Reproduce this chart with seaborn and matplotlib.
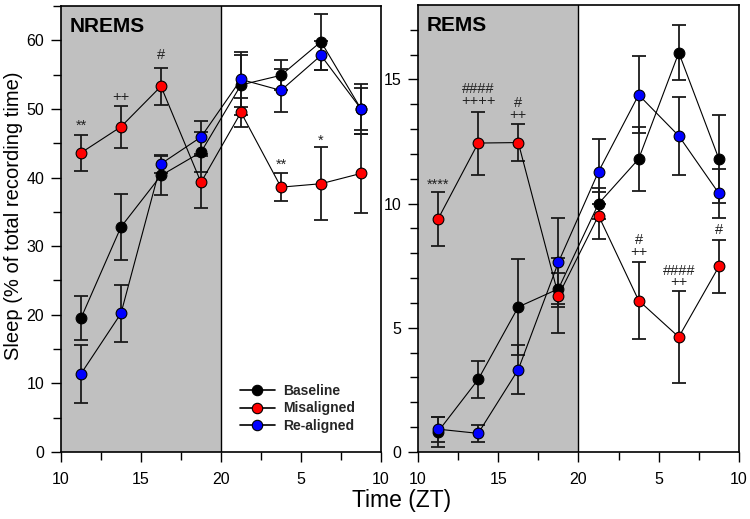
import matplotlib
matplotlib.use("Agg")
import matplotlib.pyplot as plt
from matplotlib.lines import Line2D
import seaborn as sns
import numpy as np

# ---- data ----
zt = [11.25, 13.75, 16.25, 18.75, 21.25, 23.75, 26.25, 28.75]
xtick_pos = [10, 15, 20, 25, 30]
xtick_labels = ["10", "15", "20", "5", "10"]
series_names = ["Baseline", "Misaligned", "Re-aligned"]

nrem_base = [19.5, 32.8, 40.3, 43.7, 53.5, 54.9, 59.8, 50.0]
nrem_base_err = [3.2, 4.8, 2.8, 2.9, 4.4, 2.2, 4.1, 3.6]
nrem_mis = [43.6, 47.4, 53.3, 39.3, 49.5, 38.6, 39.1, 40.6]
nrem_mis_err = [2.6, 3.1, 2.7, 3.8, 2.1, 2.0, 5.3, 5.7]
nrem_re = [11.4, 20.2, 42.0, 45.9, 54.3, 52.7, 57.8, 50.0]
nrem_re_err = [4.2, 4.1, 1.3, 2.4, 4.0, 3.1, 2.1, 3.1]

rem_base = [0.82, 2.92, 5.84, 6.57, 10.0, 11.8, 16.08, 11.8]
rem_base_err = [0.6, 0.75, 1.95, 0.63, 0.62, 1.3, 1.12, 1.77]
rem_mis = [9.38, 12.44, 12.46, 6.3, 9.52, 6.1, 4.63, 7.47]
rem_mis_err = [1.1, 1.27, 0.75, 1.5, 0.95, 1.55, 1.85, 1.07]
rem_re = [0.92, 0.75, 3.32, 7.64, 11.29, 14.38, 12.73, 10.41]
rem_re_err = [0.5, 0.35, 1.0, 1.8, 1.3, 1.55, 1.57, 1.0]

nrem_annot_x = [11.25, 13.75, 16.25, 23.75, 26.25]
nrem_annot_y = [47.6, 51.7, 57.8, 41.9, 45.4]
nrem_annot_t = ["**", "++", "#", "**", "*"]

rem_annot_x = [11.25, 13.75, 16.25, 23.75, 26.25, 28.75]
rem_annot_y = [10.75, 14.37, 13.82, 8.31, 7.07, 8.94]
rem_annot_t = ["****", "####\n++++", "#\n++", "#\n++", "####\n++", "#"]

colors = ["black", "#ff0000", "#0000ff"]

sns.set_theme(style="ticks")
plt.rcParams["font.family"] = ["Liberation Sans", "DejaVu Sans"]

fig = plt.figure(figsize=(7.5, 5.19), dpi=100)
axL = fig.add_axes([0.0813, 0.1291, 0.4267, 0.8593])
axR = fig.add_axes([0.5573, 0.1291, 0.428, 0.8613])


def draw_panel(ax, data, ylim, major, minor, title, annots):
    ax.axvspan(10, 20, color="#c0c0c0", lw=0, zorder=0)
    ax.axvline(20, color="black", lw=1.0, zorder=1)
    for (y, e), c in zip(data, colors):
        ax.errorbar(zt, y, yerr=e, fmt="none", ecolor="#1a1a1a", elinewidth=1.3,
                    capsize=4.7, capthick=1.3, zorder=2)
        sns.lineplot(x=zt, y=y, color="black", lw=0.8, ax=ax, zorder=3,
                     sort=False, estimator=None)
        sns.scatterplot(x=zt, y=y, color=c, edgecolor="black", linewidth=0.8,
                        s=60, ax=ax, zorder=4)
    ax.set_xlim(10, 30)
    ax.set_ylim(*ylim)
    ax.set_xticks(xtick_pos)
    ax.set_xticklabels(xtick_labels)
    ax.set_xticks([12.5, 17.5, 22.5, 27.5], minor=True)
    ax.set_yticks(major)
    ax.set_yticks(minor, minor=True)
    ax.tick_params(axis="both", which="major", direction="out", length=7,
                   width=1, labelsize=11.5, color="black", labelcolor="black")
    ax.tick_params(axis="y", which="major", pad=5)
    ax.tick_params(axis="x", which="major", pad=7.5)
    ax.tick_params(axis="both", which="minor", direction="out", length=5.5,
                   width=1, color="black")
    for s in ax.spines.values():
        s.set_color("black")
        s.set_linewidth(1.2)
    ax.text(0.028, 0.975, title, transform=ax.transAxes, ha="left", va="top",
            fontweight="bold", fontsize=15, color="black")
    for ax_, ay, t in zip(*annots):
        ax.text(ax_, ay, t, ha="center", va="center", fontsize=10.5,
                color="#222222", zorder=5, linespacing=0.8)
    ax.set_xlabel("")
    ax.set_ylabel("")


draw_panel(axL, [(nrem_base, nrem_base_err), (nrem_mis, nrem_mis_err), (nrem_re, nrem_re_err)],
           (0, 65), [0, 10, 20, 30, 40, 50, 60], [5, 15, 25, 35, 45, 55, 65],
           "NREMS", (nrem_annot_x, nrem_annot_y, nrem_annot_t))
draw_panel(axR, [(rem_base, rem_base_err), (rem_mis, rem_mis_err), (rem_re, rem_re_err)],
           (0, 18), [0, 5, 10, 15], [i for i in range(1, 18) if i % 5 != 0],
           "REMS", (rem_annot_x, rem_annot_y, rem_annot_t))

axL.set_ylabel("Sleep (% of total recording time)", fontsize=14.5, color="black")
axL.yaxis.set_label_coords(-0.118, 0.53)

handles = [Line2D([], [], color="black", lw=1.2, marker="o", markersize=7.5,
                  markerfacecolor=c, markeredgecolor="black", markeredgewidth=0.8)
           for c in colors]
leg = axL.legend(handles, series_names, loc="upper left",
                 bbox_to_anchor=(0.5375, 0.168), frameon=False, borderpad=0,
                 handlelength=2.5, labelspacing=0.25, handletextpad=0.6,
                 prop={"weight": "bold", "size": 10})

fig.text(402 / 750, 1 - 500 / 519, "Time (ZT)", ha="center", va="center",
         fontsize=16.5, color="black")

fig.savefig("out.png", dpi=100)
